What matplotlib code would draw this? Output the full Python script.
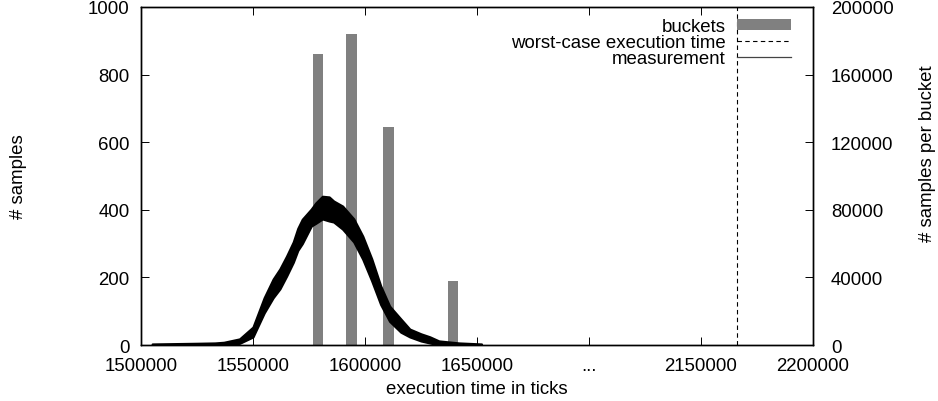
import numpy as np
import matplotlib
matplotlib.use("Agg")
import matplotlib.pyplot as plt

plt.rcParams['font.family'] = ['Liberation Sans', 'DejaVu Sans']
plt.rcParams['font.size'] = 13.4

# measurement band (min / max of the noisy curve), execution time in ticks
meas_x = [1505000, 1515000, 1525000, 1533000, 1537000, 1544000, 1550000, 1555000,
          1559000, 1562000, 1565000, 1568000, 1570000, 1572000, 1576000, 1578000,
          1581000, 1584000, 1586000, 1590000, 1595000, 1599000, 1603000, 1607000,
          1611000, 1616000, 1620000, 1625000, 1629000, 1633000, 1642000, 1652000]
meas_lo = [0, 0, 0, 0, 0, 5, 24, 95, 140, 166, 204, 245, 280, 300, 352, 360,
           373, 367, 364, 343, 305, 254, 190, 120, 70, 38, 24, 12, 6, 0, 0, 0]
meas_hi = [3, 4, 5, 6, 8, 18, 53, 140, 195, 225, 263, 305, 345, 372, 402, 420,
           440, 438, 426, 411, 373, 322, 255, 175, 115, 77, 47, 33, 24, 12, 6, 3]

# buckets
bucket_x = [1579000, 1594000, 1610500, 1639500]
bucket_n = [172000, 184000, 129000, 38000]
bucket_w = 4500

wcet = 2166000

xtick_vals = [1500000, 1550000, 1600000, 1650000, 1700000, 2150000, 2200000]
xtick_labels = ['1500000', '1550000', '1600000', '1650000', '...', '2150000', '2200000']


def brk(x):
    # the axis skips 1700000..2100000
    x = np.asarray(x, dtype=float)
    return np.where(x >= 2100000, x - 400000, x)


fig = plt.figure(figsize=(9.38, 4.02), dpi=100)
ax = fig.add_axes([0.1503, 0.1393, 0.7164, 0.8408])
ax2 = ax.twinx()
ax.set_zorder(ax2.get_zorder() + 1)
ax.patch.set_visible(False)

bars = ax2.bar(brk(bucket_x), bucket_n, width=bucket_w, color='#808080', label='buckets')
wl = ax.axvline(brk(wcet), color='black', lw=0.8, dashes=(4, 3),
                label='worst-case execution time')
xm = brk(meas_x)
ax.fill_between(xm, meas_lo, meas_hi, color='black', lw=1.6)
ml, = ax.plot([], [], color='#444444', lw=0.9, label='measurement')

ax.set_xlim(1500000, 1800000)
ax.set_ylim(0, 1000)
ax2.set_ylim(0, 200000)
ax.set_xticks(brk(xtick_vals))
ax.set_xticklabels(xtick_labels)
ax.set_yticks(np.arange(0, 1001, 200))
ax2.set_yticks(np.arange(0, 200001, 40000))

for a in (ax, ax2):
    for s in a.spines.values():
        s.set_linewidth(1.0)
ax.tick_params(axis='x', direction='in', top=True, length=6, width=0.7, pad=8.5)
ax.tick_params(axis='y', direction='in', length=6, width=0.7, pad=8)
ax2.tick_params(axis='y', direction='in', length=6, width=0.7, pad=13)

ax.set_xlabel('execution time in ticks')
ax.xaxis.set_label_coords(0.5, -0.105)
ax.set_ylabel('# samples')
ax.yaxis.set_label_coords(-0.1696, 0.5)
ax2.set_ylabel('# samples per bucket')
ax2.yaxis.set_label_coords(1.158, 0.57)

ax.legend([bars, wl, ml], ['buckets', 'worst-case execution time', 'measurement'],
          loc='upper right', frameon=False, markerfirst=False, fontsize=13.4,
          labelspacing=-0.05, handlelength=2.88, handleheight=0.48, handletextpad=0.64,
          borderaxespad=0.2, bbox_to_anchor=(0.984, 1.0))

fig.savefig('out.png', dpi=100)
